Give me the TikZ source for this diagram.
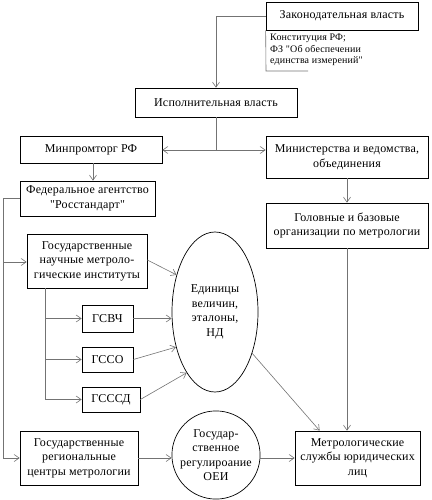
\documentclass[tikz,border=0pt]{standalone}
\usepackage{fontspec}
\setmainfont{Liberation Serif}[LetterSpace=1.5]
\newfontfamily\tnr{Liberation Serif}[LetterSpace=1.5]
\usetikzlibrary{arrows.meta,shapes.geometric,calc}
\begin{document}
\begin{tikzpicture}[x=1pt,y=-1pt,
  box/.style={draw=black,line width=0.7pt,inner sep=0pt,align=center,
    font=\tnr\fontsize{12}{14.5}\selectfont},
  conn/.style={draw=black!55,line width=0.6pt},
  arr/.style={conn,-{Straight Barb[length=5pt,width=7pt]}}]
\useasboundingbox (0,0) rectangle (431,500);
\node[box,minimum width=152,minimum height=28] (zak) at (342,16) {Законодательная власть};
\node[anchor=north west,align=left,inner sep=0pt,font=\tnr\fontsize{10}{11.5}\selectfont] (ann) at (270,34)
  {Конституция РФ;\\ФЗ "Об обеспечении\\единства измерений"};
\coordinate (annb) at (266,71);
\coordinate (anne) at (308,71);
\node[box,minimum width=162,minimum height=29] (isp) at (216,102.5) {Исполнительная власть};
\node[box,minimum width=142,minimum height=27] (minp) at (91,149.5) {Минпромторг РФ};
\node[box,minimum width=162,minimum height=42] (mins) at (347,157) {Министерства и ведомства,\\объединения};
\node[box,minimum width=135,minimum height=35] (fed) at (87.5,198.5) {Федеральное агентство\\"Росстандарт"};
\node[box,minimum width=162,minimum height=45] (gol) at (347,225.5) {Головные и базовые\\организации по метрологии};
\node[box,minimum width=120,minimum height=54] (gn) at (87,261) {Государственные\\научные метроло-\\гические институты};
\node[box,ellipse,minimum width=86,minimum height=160] (ell) at (215,312) {Единицы\\величин,\\эталоны,\\НД};
\node[box,minimum width=51,minimum height=27] (gsvch) at (107.5,318.5) {ГСВЧ};
\node[box,minimum width=51,minimum height=25] (gsso) at (107.5,359.5) {ГССО};
\node[box,minimum width=58,minimum height=25] (gsssd) at (111,399.5) {ГСССД};
\node[box,minimum width=118,minimum height=54] (gr) at (79,458) {Государственные\\региональные\\центры метрологии};
\node[box,circle,minimum size=84] (circ) at (216,455) {Государ-\\ственное\\регулироание\\ОЕИ};
\node[box,minimum width=125,minimum height=54] (met) at (357.5,458) {Метрологические\\службы юридических\\лиц};
% annotation bracket
\draw[conn] (zak.south west) -- (annb) -- (anne);
% connectors
\draw[arr] (zak.west) -| (isp.north);
\coordinate (j) at (216,150);
\draw[conn] (isp.south) -- (j);
\draw[arr] (j) -- (j -| minp.east);
\draw[arr] (j) -- (j -| mins.west);
\draw[arr] ([xshift=2pt]minp.south) -- ([xshift=2pt]minp.south |- fed.north);
\draw[arr] (mins.south) -- (mins.south |- gol.north);
\draw[arr] (gol.south) -- (gol.south |- met.north);
\coordinate (l1) at (3,198);
\coordinate (l2) at (3,458);
\coordinate (lb) at (3,262);
\draw[conn] (fed.west |- l1) -- (l1) -- (l2);
\draw[arr] (l2) -- (l2 -| gr.west);
\draw[arr] (lb) -- (lb -| gn.west);
\draw[arr] ([yshift=1pt]gn.east) -- (ell.136);
\coordinate (v1) at (45,288);
\coordinate (v2) at (45,399.5);
\draw[conn] (v1) -- (v2);
\draw[arr] (v1 |- gsvch.west) -- (gsvch.west);
\draw[arr] (v1 |- gsso.west) -- (gsso.west);
\draw[arr] (v2) -- (gsssd.west);
\draw[arr] (gsvch.east) -- (gsvch.east -| ell.west);
\draw[arr] (gsso.east) -- (ell.222);
\draw[arr] (gsssd.east) -- (ell.245);
\draw[arr] (ell.312) -- ([xshift=25pt]met.north west);
\draw[arr] (gr.east) -- (gr.east -| circ.west);
\draw[arr] (circ.east |- met.west) -- (met.west);
\end{tikzpicture}
\end{document}
